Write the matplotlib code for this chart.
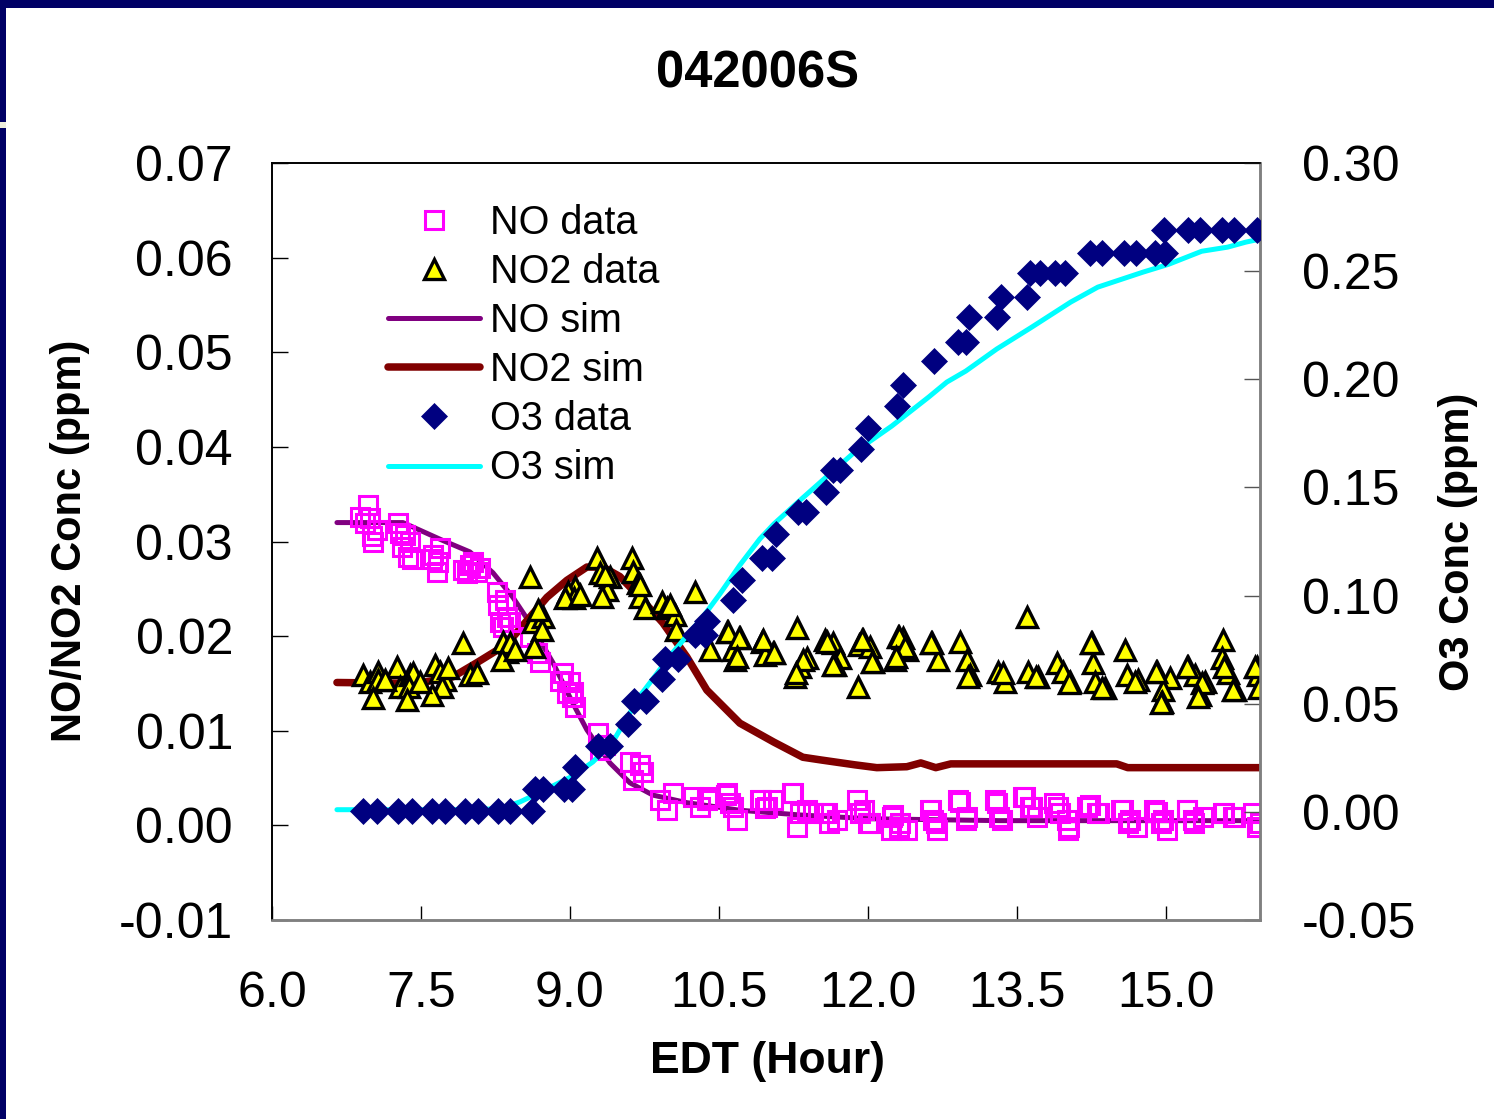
import matplotlib
matplotlib.use("Agg")
import matplotlib.pyplot as plt
from matplotlib.patches import Rectangle
from matplotlib.ticker import FormatStrFormatter

plt.rcParams['font.family'] = ['Liberation Sans', 'DejaVu Sans']
plt.rcParams['axes.unicode_minus'] = False

# ---------------- data ----------------
x_ticks = [6.0, 7.5, 9.0, 10.5, 12.0, 13.5, 15.0]
left_ticks = [-0.01, 0.00, 0.01, 0.02, 0.03, 0.04, 0.05, 0.06, 0.07]
right_ticks = [-0.05, 0.00, 0.05, 0.10, 0.15, 0.20, 0.25, 0.30]

# NO measurements (ppm)
no_t = [6.966, 6.886, 6.987, 7.057, 7.017, 7.268, 7.289, 7.309, 7.369, 7.389,
        7.611, 7.621, 7.661, 7.691, 7.923, 7.963, 8.024, 8.064, 8.265, 8.275,
        8.295, 8.325, 8.366, 8.396, 8.597, 8.668, 8.698, 8.930, 8.970, 9.000,
        9.020, 9.050, 9.282, 9.302, 9.604, 9.634, 9.735, 9.906, 9.976, 10.037,
        10.238, 10.309, 10.409, 10.580, 10.611, 10.681, 10.913, 10.983, 11.044, 11.245,
        11.285, 11.316, 11.446, 11.587, 11.688, 11.889, 11.919, 12.000, 12.252, 12.232,
        12.322, 12.393, 12.624, 12.654, 12.695, 12.926, 12.997, 13.299, 13.349, 13.560,
        13.631, 13.701, 13.913, 14.003, 14.013, 14.235, 14.305, 14.567, 14.637, 14.708,
        14.909, 14.970, 15.010, 15.211, 15.272, 15.372, 15.574, 15.674, 15.876, 15.946,
        6.936, 7.007, 7.339, 7.409, 7.671, 7.993, 8.094, 8.346, 8.899, 9.030,
        9.352, 9.705,
        10.379, 10.571, 10.641, 10.923, 10.963, 11.235, 11.386, 11.557, 11.608, 11.960,
        12.020, 12.242, 12.312, 12.634, 12.685, 12.906, 12.987, 13.279, 13.319, 13.581,
        13.651, 13.873, 13.933, 14.024, 14.205, 14.326, 14.547, 14.618, 14.879, 14.950,
        15.211, 15.282, 15.584, 15.695, 15.916]
no_obs = [0.0339, 0.0326, 0.0325, 0.0312, 0.0300, 0.0320, 0.0309, 0.0294, 0.0284, 0.0299,
          0.0281, 0.0286, 0.0268, 0.0293, 0.0270, 0.0267, 0.0278, 0.0268, 0.0247, 0.0233,
          0.0215, 0.0210, 0.0220, 0.0215, 0.0199, 0.0182, 0.0173, 0.0161, 0.0140, 0.0151,
          0.0136, 0.0125, 0.0098, 0.0080, 0.0067, 0.0048, 0.0056, 0.0027, 0.0016, 0.0034,
          0.0030, 0.0019, 0.0030, 0.0034, 0.0024, 0.0006, 0.0027, 0.0019, 0.0027, 0.0034,
          -0.0002, 0.0013, 0.0013, 0.0013, 0.0006, 0.0027, 0.0013, 0.0003, 0.0011, -0.0005,
          0.0003, -0.0005, 0.0016, 0.0006, -0.0005, 0.0025, 0.0009, 0.0024, 0.0006, 0.0030,
          0.0019, 0.0009, 0.0019, 0.0006, -0.0005, 0.0022, 0.0013, 0.0016, 0.0006, -0.0002,
          0.0014, 0.0006, -0.0005, 0.0016, 0.0006, 0.0009, 0.0013, 0.0009, 0.0013, 0.0003,
          0.0320, 0.0306, 0.0307, 0.0281, 0.0278, 0.0275, 0.0272, 0.0238, 0.0153, 0.0141,
          0.0085, 0.0064,
          0.0027, 0.0032, 0.0019, 0.0027, 0.0018, 0.0034, 0.0016, 0.0013, 0.0003, 0.0016,
          0.0003, 0.0009, -0.0002, 0.0016, 0.0003, 0.0027, 0.0006, 0.0027, 0.0009, 0.0030,
          0.0019, 0.0024, 0.0013, -0.0002, 0.0019, 0.0013, 0.0016, 0.0003, 0.0016, 0.0003,
          0.0016, 0.0003, 0.0013, 0.0009, -0.0002]

# NO2 measurements (ppm)
no2_t = [6.916, 6.987, 7.067, 7.067, 7.017, 7.258, 7.289, 7.389, 7.419, 7.379,
         7.359, 7.641, 7.691, 7.742, 7.711, 7.611, 7.923, 7.993, 8.064, 8.325,
         8.366, 8.396, 8.315, 8.597, 8.627, 8.728, 8.718, 8.637, 9.050, 8.980,
         9.040, 8.950, 9.272, 9.302, 9.403, 9.372, 9.322, 9.624, 9.634, 9.685,
         9.705, 9.755, 9.926, 9.976, 10.057, 10.067, 10.258, 10.409, 10.580, 10.711,
         10.641, 10.661, 10.933, 11.044, 10.963, 11.285, 11.316, 11.386, 11.265, 11.567,
         11.648, 11.718, 11.668, 11.899, 11.909, 11.950, 12.020, 12.050, 12.302, 12.352,
         12.393, 12.272, 12.644, 12.705, 12.926, 12.997, 13.027, 13.309, 13.379, 13.601,
         13.611, 13.711, 13.903, 13.963, 14.034, 14.255, 14.265, 14.285, 14.386, 14.587,
         14.607, 14.718, 14.909, 15.040, 14.970, 14.960, 15.221, 15.292, 15.392, 15.342,
         15.574, 15.564, 15.624, 15.694, 15.916, 15.926, 15.936,
         7.138, 7.490, 7.772, 8.446, 8.678, 9.101, 9.352, 9.705, 10.007,
         10.591, 10.701, 10.681, 10.943, 11.054, 11.346, 11.275, 11.587, 11.648, 11.940,
         12.040, 12.312, 12.373, 12.282, 12.634, 13.006, 13.359, 13.691, 14.024, 14.245,
         14.356, 14.688, 14.899, 14.950, 15.211, 15.362, 15.322, 15.584, 15.675, 15.896]
no2_obs = [0.0159, 0.0152, 0.0162, 0.0154, 0.0135, 0.0167, 0.0146, 0.0159, 0.0161, 0.0146,
           0.0133, 0.0170, 0.0162, 0.0154, 0.0146, 0.0138, 0.0193, 0.0159, 0.0161, 0.0194,
           0.0183, 0.0193, 0.0175, 0.0262, 0.0215, 0.0220, 0.0207, 0.0189, 0.0252, 0.0247,
           0.0240, 0.0240, 0.0283, 0.0267, 0.0263, 0.0249, 0.0241, 0.0283, 0.0268, 0.0256,
           0.0241, 0.0230, 0.0236, 0.0230, 0.0222, 0.0207, 0.0247, 0.0185, 0.0204, 0.0198,
           0.0185, 0.0175, 0.0194, 0.0182, 0.0180, 0.0209, 0.0167, 0.0177, 0.0157, 0.0196,
           0.0193, 0.0177, 0.0170, 0.0146, 0.0191, 0.0196, 0.0189, 0.0173, 0.0199, 0.0198,
           0.0185, 0.0175, 0.0193, 0.0175, 0.0194, 0.0175, 0.0159, 0.0162, 0.0152, 0.0220,
           0.0162, 0.0157, 0.0172, 0.0162, 0.0152, 0.0193, 0.0172, 0.0152, 0.0145, 0.0185,
           0.0159, 0.0154, 0.0162, 0.0156, 0.0143, 0.0130, 0.0167, 0.0159, 0.0152, 0.0138,
           0.0196, 0.0177, 0.0161, 0.0143, 0.0167, 0.0159, 0.0145,
           0.0154, 0.0152, 0.0166, 0.0185, 0.0228, 0.0243, 0.0265, 0.0254, 0.0233,
           0.0204, 0.0198, 0.0178, 0.0196, 0.0182, 0.0175, 0.0161, 0.0194, 0.0170, 0.0196,
           0.0173, 0.0199, 0.0188, 0.0178, 0.0193, 0.0157, 0.0161, 0.0157, 0.0150, 0.0193,
           0.0145, 0.0152, 0.0162, 0.0129, 0.0167, 0.0150, 0.0136, 0.0167, 0.0143, 0.0167]

# O3 measurements (ppm)
o3_t = [6.916, 7.057, 7.268, 7.409, 7.611, 7.742, 7.943, 8.074, 8.275, 8.396,
        8.618, 8.648, 8.728, 8.940, 9.020, 9.050, 9.282, 9.403, 9.584, 9.644,
        9.765, 9.926, 9.957, 10.087, 10.258, 10.359, 10.379, 10.641, 10.732, 10.933,
        11.034, 11.074, 11.295, 11.376, 11.577, 11.648, 11.718, 11.930, 12.000, 12.292,
        12.353, 12.665, 12.906, 12.987, 13.017, 13.299, 13.339, 13.601, 13.631, 13.732,
        13.883, 13.983, 14.235, 14.356, 14.577, 14.698, 14.889, 14.990, 14.980, 15.222,
        15.343, 15.564, 15.685, 15.916]
o3_obs = [0.0005, 0.0005, 0.0005, 0.0005, 0.0005, 0.0005, 0.0005, 0.0005, 0.0005, 0.0005,
          0.0005, 0.0106, 0.0106, 0.0106, 0.0106, 0.0208, 0.0305, 0.0305, 0.0407, 0.0513,
          0.0513, 0.0615, 0.0707, 0.0707, 0.0818, 0.0818, 0.0883, 0.0980, 0.1072, 0.1174,
          0.1174, 0.1284, 0.1386, 0.1386, 0.1478, 0.1580, 0.1580, 0.1677, 0.1774, 0.1876,
          0.1973, 0.2084, 0.2171, 0.2171, 0.2287, 0.2287, 0.2379, 0.2379, 0.2490, 0.2490,
          0.2490, 0.2490, 0.2583, 0.2583, 0.2583, 0.2583, 0.2583, 0.2583, 0.2689, 0.2689,
          0.2689, 0.2689, 0.2689, 0.2689]

# model results
no_sim_t = [6.654, 7.319, 7.722, 7.993, 8.225, 8.426, 8.597, 8.829, 9.030, 9.171,
            9.403, 9.604, 9.836, 10.178, 10.712, 11.316, 12.020, 13.329, 15.947]
no_sim = [0.0320, 0.0320, 0.0301, 0.0289, 0.0267, 0.0241, 0.0214, 0.0172, 0.0129, 0.0101,
          0.0066, 0.0045, 0.0032, 0.0024, 0.0016, 0.0011, 0.0007, 0.0005, 0.0005]

no2_sim_t = [6.654, 7.460, 7.822, 8.064, 8.265, 8.426, 8.597, 8.769, 8.970, 9.171,
             9.332, 9.503, 9.705, 9.936, 10.178, 10.379, 10.712, 11.054, 11.346, 11.537,
             11.869, 12.091, 12.393, 12.534, 12.685, 12.836, 14.507, 14.618, 15.947]
no2_sim = [0.0151, 0.0150, 0.0157, 0.0172, 0.0185, 0.0199, 0.0220, 0.0241, 0.0259, 0.0273,
           0.0273, 0.0263, 0.0241, 0.0214, 0.0178, 0.0143, 0.0108, 0.0088, 0.0072, 0.0069,
           0.0064, 0.0061, 0.0062, 0.0066, 0.0061, 0.0065, 0.0065, 0.0061, 0.0061]

o3_sim_t = [6.654, 7.822, 8.295, 8.497, 8.668, 8.829, 9.030, 9.232, 9.433, 9.705,
            9.836, 10.007, 10.339, 10.510, 10.712, 10.913, 11.054, 11.275, 11.537, 11.869,
            12.242, 12.614, 12.796, 12.987, 13.299, 13.651, 14.044, 14.316, 14.769, 15.031,
            15.363, 15.624, 15.806, 15.947]
o3_sim = [0.0010, 0.0010, 0.0014, 0.0046, 0.0083, 0.0120, 0.0166, 0.0231, 0.0324, 0.0536,
          0.0615, 0.0721, 0.0901, 0.1007, 0.1141, 0.1262, 0.1331, 0.1423, 0.1530, 0.1664,
          0.1784, 0.1918, 0.1987, 0.2038, 0.2140, 0.2241, 0.2357, 0.2426, 0.2495, 0.2532,
          0.2592, 0.2611, 0.2634, 0.2648]

# ---------------- figure ----------------
W, H = 1494, 1119
fig = plt.figure(figsize=(W / 100, H / 100), dpi=100)
fig.patch.set_facecolor('white')

# slide frame along the top and left edges
fig.patches.append(Rectangle((0, 1 - 8 / H), 1, 8 / H, transform=fig.transFigure,
                             facecolor='#000066', edgecolor='none', zorder=0))
fig.patches.append(Rectangle((0, 0), 6 / W, 1, transform=fig.transFigure,
                             facecolor='#000066', edgecolor='none', zorder=0))
fig.patches.append(Rectangle((0, 1 - 128 / H), 6 / W, 6 / H, transform=fig.transFigure,
                             facecolor='#EEEEDD', edgecolor='none', zorder=1))

ax = fig.add_axes([272 / W, (H - 920) / H, (1260 - 272) / W, (920 - 163) / H])
ax2 = ax.twinx()

h_no_sim, = ax.plot(no_sim_t, no_sim, color='#800080', lw=3.6,
                    solid_capstyle='round', label='NO sim', zorder=2)
h_no2_sim, = ax.plot(no2_sim_t, no2_sim, color='#800000', lw=5.4,
                     solid_capstyle='round', label='NO2 sim', zorder=2)
h_no, = ax.plot(no_t, no_obs, ls='none', marker='s', ms=12.5, mfc='none',
                mec='#FF00FF', mew=2.2, label='NO data', zorder=3)
h_no2, = ax.plot(no2_t, no2_obs, ls='none', marker='^', ms=15, mfc='#FFFF00',
                 mec='black', mew=2.4, label='NO2 data', zorder=4)

h_o3_sim, = ax2.plot(o3_sim_t, o3_sim, color='#00FFFF', lw=3.6,
                     solid_capstyle='round', label='O3 sim', zorder=2)
h_o3, = ax2.plot(o3_t, o3_obs, ls='none', marker='D', ms=13.5, mfc='#000080',
                 mec='#000080', mew=0.5, label='O3 data', zorder=3)

ax.set_xlim(6.0, 15.95)
ax.set_ylim(-0.01, 0.07)
ax2.set_ylim(-0.05, 0.30)
ax.set_xticks(x_ticks)
ax.set_yticks(left_ticks)
ax2.set_yticks(right_ticks)
ax.xaxis.set_major_formatter(FormatStrFormatter('%.1f'))
ax.yaxis.set_major_formatter(FormatStrFormatter('%.2f'))
ax2.yaxis.set_major_formatter(FormatStrFormatter('%.2f'))

ax.tick_params(axis='x', direction='in', length=10, width=1, labelsize=36, pad=36.5,
               colors='black')
ax.tick_params(axis='y', direction='in', length=11.5, width=1, labelsize=36, pad=28)
ax2.tick_params(axis='y', direction='in', length=11.5, width=1, labelsize=36, pad=30,
                color='#555555')

for a in (ax, ax2):
    a.spines['left'].set_color('black')
    a.spines['top'].set_color('black')
    a.spines['bottom'].set_color('#808080')
    a.spines['right'].set_color('#808080')
    a.spines['left'].set_linewidth(1.2)
    a.spines['top'].set_linewidth(1.2)
    a.spines['bottom'].set_linewidth(1.8)
    a.spines['right'].set_linewidth(1.8)

handles = [h_no, h_no2, h_no_sim, h_no2_sim, h_o3, h_o3_sim]
ax2.legend(handles=handles, labels=[h.get_label() for h in handles],
           loc='upper left', bbox_to_anchor=(388 / W, 1 - 204 / H),
           bbox_transform=fig.transFigure, frameon=False, fontsize=28.5,
           borderpad=0, borderaxespad=0, handlelength=2.32, handletextpad=0.25,
           labelspacing=0.28, numpoints=1)

fig.text(758 / W, 1 - 74 / H, '042006S', ha='center', va='center',
         fontsize=36.5, fontweight='bold')
fig.text(768 / W, 1 - 1062 / H, 'EDT (Hour)', ha='center', va='center',
         fontsize=32, fontweight='bold')
fig.text(70 / W, 1 - 541 / H, 'NO/NO2 Conc (ppm)', ha='center', va='center',
         rotation=90, fontsize=30, fontweight='bold')
fig.text(1458 / W, 1 - 542 / H, 'O3 Conc (ppm)', ha='center', va='center',
         rotation=90, fontsize=30, fontweight='bold')

fig.savefig('out.png', dpi=100, facecolor=fig.get_facecolor())
